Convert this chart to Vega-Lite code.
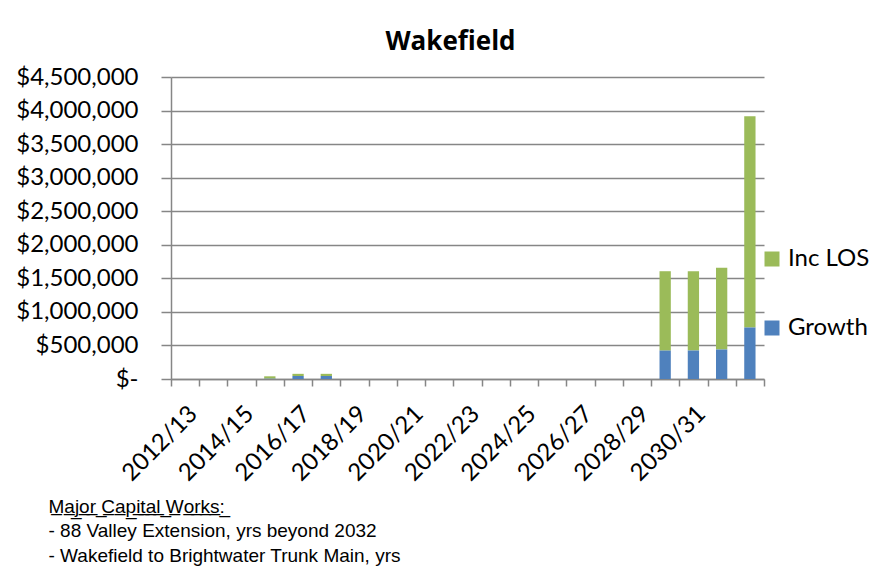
{
  "$schema": "https://vega.github.io/schema/vega-lite/v6.json",
  "autosize": "none",
  "width": 593,
  "height": 302,
  "padding": {"left": 171, "top": 77, "right": 121, "bottom": 208},
  "background": "white",
  "title": {
    "text": "Wakefield",
    "font": "Open Sans",
    "fontSize": 26,
    "fontWeight": "bold",
    "color": "black",
    "anchor": "middle",
    "offset": 10,
    "dx": -17
  },
  "data": {
    "values": [
      {"year": "2012/13", "series": "Growth", "amount": 0},
      {"year": "2012/13", "series": "Inc LOS", "amount": 0},
      {"year": "2013/14", "series": "Growth", "amount": 0},
      {"year": "2013/14", "series": "Inc LOS", "amount": 0},
      {"year": "2014/15", "series": "Growth", "amount": 0},
      {"year": "2014/15", "series": "Inc LOS", "amount": 0},
      {"year": "2015/16", "series": "Growth", "amount": 8000},
      {"year": "2015/16", "series": "Inc LOS", "amount": 32000},
      {"year": "2016/17", "series": "Growth", "amount": 45000},
      {"year": "2016/17", "series": "Inc LOS", "amount": 32000},
      {"year": "2017/18", "series": "Growth", "amount": 45000},
      {"year": "2017/18", "series": "Inc LOS", "amount": 32000},
      {"year": "2018/19", "series": "Growth", "amount": 0},
      {"year": "2018/19", "series": "Inc LOS", "amount": 0},
      {"year": "2019/20", "series": "Growth", "amount": 0},
      {"year": "2019/20", "series": "Inc LOS", "amount": 0},
      {"year": "2020/21", "series": "Growth", "amount": 0},
      {"year": "2020/21", "series": "Inc LOS", "amount": 0},
      {"year": "2021/22", "series": "Growth", "amount": 0},
      {"year": "2021/22", "series": "Inc LOS", "amount": 0},
      {"year": "2022/23", "series": "Growth", "amount": 0},
      {"year": "2022/23", "series": "Inc LOS", "amount": 0},
      {"year": "2023/24", "series": "Growth", "amount": 0},
      {"year": "2023/24", "series": "Inc LOS", "amount": 0},
      {"year": "2024/25", "series": "Growth", "amount": 0},
      {"year": "2024/25", "series": "Inc LOS", "amount": 0},
      {"year": "2025/26", "series": "Growth", "amount": 0},
      {"year": "2025/26", "series": "Inc LOS", "amount": 0},
      {"year": "2026/27", "series": "Growth", "amount": 0},
      {"year": "2026/27", "series": "Inc LOS", "amount": 0},
      {"year": "2027/28", "series": "Growth", "amount": 0},
      {"year": "2027/28", "series": "Inc LOS", "amount": 0},
      {"year": "2028/29", "series": "Growth", "amount": 0},
      {"year": "2028/29", "series": "Inc LOS", "amount": 0},
      {"year": "2029/30", "series": "Growth", "amount": 427000},
      {"year": "2029/30", "series": "Inc LOS", "amount": 1179000},
      {"year": "2030/31", "series": "Growth", "amount": 427000},
      {"year": "2030/31", "series": "Inc LOS", "amount": 1179000},
      {"year": "2031/32", "series": "Growth", "amount": 442000},
      {"year": "2031/32", "series": "Inc LOS", "amount": 1215000},
      {"year": "2032/33", "series": "Growth", "amount": 770000},
      {"year": "2032/33", "series": "Inc LOS", "amount": 3145000}
    ]
  },
  "mark": {"type": "bar", "width": {"band": 0.4}},
  "encoding": {
    "x": {
      "field": "year",
      "type": "ordinal",
      "sort": null,
      "scale": {"paddingInner": 0, "paddingOuter": 0},
      "axis": {
        "labelExpr": "indexof(['2012/13','2014/15','2016/17','2018/19','2020/21','2022/23','2024/25','2026/27','2028/29','2030/31'], datum.value) >= 0 ? datum.value : ''",
        "labelAngle": -45,
        "labelAlign": "right",
        "labelBaseline": "middle",
        "labelFont": "Lato",
        "labelFontSize": 24,
        "labelColor": "black",
        "labelPadding": 24,
        "labelOffset": 8,
        "labelOverlap": false,
        "tickBand": "extent",
        "tickSize": 7,
        "tickColor": "#868686",
        "tickWidth": 1.5,
        "domainColor": "#868686",
        "domainWidth": 1.5,
        "title": ["M̲a̲j̲o̲r̲ ̲C̲a̲p̲i̲t̲a̲l̲ ̲W̲o̲r̲k̲s̲:̲", "- 88 Valley Extension, yrs beyond 2032", "- Wakefield to Brightwater Trunk Main, yrs"],
        "titleFont": "Liberation Sans",
        "titleFontSize": 19,
        "titleFontWeight": "normal",
        "titleColor": "black",
        "titleAnchor": "start",
        "titleAlign": "left",
        "titleBaseline": "top",
        "titleX": -123,
        "titleY": 118,
        "titleLineHeight": 24.5
      }
    },
    "y": {
      "field": "amount",
      "type": "quantitative",
      "aggregate": "sum",
      "stack": "zero",
      "scale": {"domain": [0, 4500000], "nice": false},
      "axis": {
        "values": [0, 500000, 1000000, 1500000, 2000000, 2500000, 3000000, 3500000, 4000000, 4500000],
        "labelExpr": "datum.value == 0 ? '$-\u00a0\u00a0\u00a0' : format(datum.value, '$,.0f')",
        "labelFont": "Lato",
        "labelFontSize": 24,
        "labelColor": "black",
        "labelPadding": 23,
        "tickSize": 10,
        "tickColor": "#868686",
        "tickWidth": 1.5,
        "domainColor": "#868686",
        "domainWidth": 1.5,
        "grid": true,
        "gridColor": "#868686",
        "gridWidth": 1.5,
        "title": null
      }
    },
    "color": {
      "field": "series",
      "type": "nominal",
      "scale": {"domain": ["Inc LOS", "Growth"], "range": ["#9BBB59", "#4F81BD"]},
      "legend": {
        "title": null,
        "orient": "none",
        "legendX": 589,
        "legendY": 170,
        "symbolType": "square",
        "symbolSize": 225,
        "symbolStrokeWidth": 0,
        "labelFont": "Lato",
        "labelFontSize": 24,
        "labelColor": "black",
        "labelOffset": 4,
        "rowPadding": 45
      }
    },
    "order": {"field": "series", "type": "nominal", "sort": "ascending"}
  },
  "config": {
    "view": {"stroke": null}
  }
}
